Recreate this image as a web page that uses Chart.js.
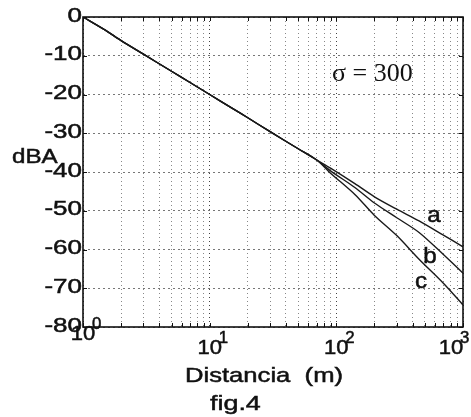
<!DOCTYPE html>
<html>
<head>
<meta charset="utf-8">
<script src="https://cdn.jsdelivr.net/npm/chart.js@4"></script>
<style>
    html, body { margin: 0; padding: 0; background: #fff; }
    #wrap { width: 471px; height: 417px; }
</style>
</head>
<body>
<div id="wrap"><canvas id="fig4"></canvas></div>
<script>
// common part of the three curves (distance in m, level in dBA)
const distNear = [1, 1.5, 2, 3, 5, 7, 10, 15, 20, 30, 50, 70];
const dbaNear = [0, -3.4, -6.1, -9.6, -14.0, -16.9, -20.0, -23.5, -26.0, -29.6, -34.0, -36.9];

// where the curves split (~70 m onwards)
const distFar = [90, 140, 200, 300, 450, 700, 1000];
const dbaA = [-39.0, -43.0, -46.4, -49.6, -52.6, -56.3, -59.3];
const dbaB = [-39.7, -44.0, -48.0, -51.8, -55.6, -61.3, -66.1];
const dbaC = [-40.3, -45.8, -51.2, -56.4, -62.5, -68.7, -74.3];

const curveNames = ["a", "b", "c"];
const xGridValues = [1, 2, 3, 4, 5, 6, 7, 8, 9, 10, 20, 30, 40, 50, 60, 70, 80, 90,
    100, 200, 300, 400, 500, 600, 700, 800, 900, 1000];
const xDecades = [1, 10, 100, 1000];
const xExponents = ["0", "1", "2", "3"];
const yMin = -80, yMax = 0, yStep = 10;

function toPoints(xs, ys) {
    return xs.map((x, i) => ({ x: x, y: ys[i] }));
}

const datasets = [dbaA, dbaB, dbaC].map((vals, i) => ({
    label: curveNames[i],
    data: toPoints(distNear.concat(distFar), dbaNear.concat(vals)),
    borderColor: "#1a1a1a",
    borderWidth: 1.4,
    pointRadius: 0,
    tension: 0.3,
    fill: false
}));

// the scanned figure is wider than tall, so the text is stretched a bit
// and given a thin outline to look like the heavy scan print
function stretchText(ctx, text, x, y, align, sx) {
    ctx.save();
    ctx.translate(x, y);
    ctx.scale(sx, 1);
    ctx.textAlign = align;
    ctx.fillText(text, 0, 0);
    ctx.lineWidth = 0.5;
    ctx.strokeStyle = "#111";
    ctx.strokeText(text, 0, 0);
    ctx.restore();
}

const SANS = "'Liberation Sans', Arial, sans-serif";

const overlay = {
    id: "overlay",
    afterDraw(chart) {
        const ctx = chart.ctx;
        const area = chart.chartArea;
        const xs = chart.scales.x;
        const ys = chart.scales.y;
        ctx.save();

        // small inward ticks on all four sides
        ctx.strokeStyle = "#111";
        ctx.lineWidth = 1;
        ctx.beginPath();
        xGridValues.forEach((v) => {
            const px = Math.round(xs.getPixelForValue(v)) + 0.5;
            ctx.moveTo(px, area.top); ctx.lineTo(px, area.top + 4);
            ctx.moveTo(px, area.bottom); ctx.lineTo(px, area.bottom - 4);
        });
        for (let v = yMin; v <= yMax; v += yStep) {
            const py = Math.round(ys.getPixelForValue(v)) + 0.5;
            ctx.moveTo(area.left, py); ctx.lineTo(area.left + 4, py);
            ctx.moveTo(area.right, py); ctx.lineTo(area.right - 4, py);
        }
        ctx.stroke();

        // box
        ctx.lineWidth = 1.6;
        ctx.strokeRect(area.left, area.top, area.right - area.left, area.bottom - area.top);

        ctx.fillStyle = "#111";

        // y tick labels
        ctx.font = "20px " + SANS;
        ctx.textBaseline = "middle";
        for (let v = yMin; v <= yMax; v += yStep) {
            stretchText(ctx, String(v), area.left - 1, ys.getPixelForValue(v) - 1, "right", 1.3);
        }

        // x tick labels: 10 with raised exponent
        ctx.textBaseline = "alphabetic";
        xDecades.forEach((v, i) => {
            let px = xs.getPixelForValue(v);
            if (i === xDecades.length - 1) px -= 12;
            const base = i === 0 ? area.bottom + 13 : area.bottom + 27;
            ctx.font = "21px " + SANS;
            stretchText(ctx, "10", px, base, "center", 1.05);
            ctx.font = "16px " + SANS;
            stretchText(ctx, xExponents[i], px + 9, base - 11, "left", 1.05);
        });

        // axis titles
        ctx.font = "21px " + SANS;
        stretchText(ctx, "dBA", 12, 163, "left", 1.15);
        stretchText(ctx, "Distancia  (m)", 185, 382, "left", 1.22);
        stretchText(ctx, "fig.4", 210, 410, "left", 1.28);

        // sigma note
        ctx.font = "26px 'Liberation Serif', 'Times New Roman', serif";
        ctx.textAlign = "left";
        ctx.fillText("\u03c3 = 300", 332, 81);

        // curve labels
        ctx.font = "22px " + SANS;
        stretchText(ctx, "a", 434, 222, "center", 1.1);
        stretchText(ctx, "b", 430, 263, "center", 1.1);
        stretchText(ctx, "c", 421, 288, "center", 1.1);
        ctx.restore();
    }
};

new Chart(document.getElementById("fig4"), {
    type: "line",
    data: { datasets: datasets },
    options: {
        responsive: true,
        maintainAspectRatio: false,
        animation: false,
        layout: { padding: { left: 0, top: 17, right: 8, bottom: 90 } },
        plugins: { legend: { display: false }, tooltip: { enabled: false } },
        scales: {
            x: {
                type: "logarithmic",
                min: 1,
                max: 1000,
                afterBuildTicks: (scale) => {
                    scale.ticks = xGridValues.map((v) => ({ value: v }));
                },
                afterFit: (scale) => { scale.height = 0; },
                ticks: { display: false },
                grid: {
                    drawTicks: false,
                    lineWidth: 1,
                    color: (c) => (c.tick && xDecades.includes(c.tick.value) ? "#444" : "#888")
                },
                border: { display: false, dash: [1, 3] }
            },
            y: {
                min: yMin,
                max: yMax,
                afterFit: (scale) => { scale.width = 83; },
                ticks: { stepSize: yStep, display: false },
                grid: { drawTicks: false, color: "#777", lineWidth: 1 },
                border: { display: false, dash: [2, 3] }
            }
        }
    },
    plugins: [overlay]
});
</script>
</body>
</html>
